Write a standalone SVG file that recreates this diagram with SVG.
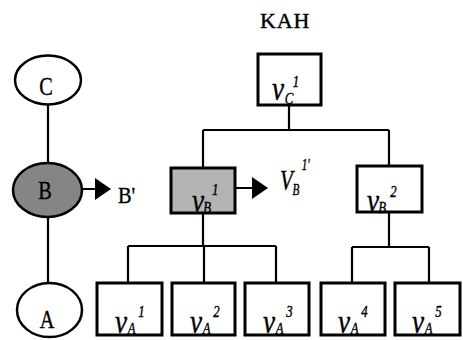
<svg xmlns="http://www.w3.org/2000/svg" width="463" height="340" viewBox="0 0 463 340">
<style>
.bg{fill:#fff}
.ell{fill:#fff;stroke:#000;stroke-width:2.5}
.ellg{fill:#858585;stroke:#000;stroke-width:2.5}
.box{fill:#fff;stroke:#000;stroke-width:3}
.boxg{fill:#b4b4b4;stroke:#000;stroke-width:3}
.ln{fill:none;stroke:#000;stroke-width:2.2}
.t{font-family:"Liberation Serif","Times New Roman",serif;fill:#000;stroke:#000;stroke-width:0.4}
.big{font-size:26px}
.v{font-family:"Liberation Serif","Times New Roman",serif;font-style:italic;fill:#000;stroke:#000;stroke-width:0.4}
.sb{font-size:16px}
.sp{font-size:16px}
</style>
<defs>
<marker id="ah" markerUnits="userSpaceOnUse" markerWidth="18" markerHeight="22" viewBox="0 0 16 22" refX="15" refY="11" orient="auto">
<path d="M0,0 L16,11 L0,22 z" fill="#000"/>
</marker>
</defs>
<rect class="bg" x="0" y="0" width="463" height="340"/>

<g id="connectors">
<line class="ln" x1="48" y1="104" x2="48" y2="163"/>
<line class="ln" x1="48" y1="217" x2="48" y2="283"/>
<line class="ln" x1="60" y1="189" x2="110" y2="189" marker-end="url(#ah)"/>
<line class="ln" x1="225" y1="188" x2="267" y2="188" marker-end="url(#ah)"/>
<path class="ln" d="M289,105 V130 M203,130 H389 M203,130 V168 M389,130 V166"/>
<path class="ln" d="M203,213 V246 M128,246 H276 M128,246 V283 M204,246 V283 M276,246 V283"/>
<path class="ln" d="M389,212 V247 M352,247 H429 M352,247 V283 M429,247 V283"/>
</g>

<g id="title"><text class="t" x="260" y="28" font-size="22" letter-spacing="0.8">KAH</text></g>

<g id="C">
<ellipse class="ell" cx="48" cy="80" rx="33" ry="24.5"/>
<text class="t big" transform="translate(46,95) scale(0.78,1)" text-anchor="middle">C</text>
</g>
<g id="B">
<ellipse class="ellg" cx="47.5" cy="190" rx="34.5" ry="27"/>
<text class="t big" transform="translate(45,199) scale(0.78,1)" text-anchor="middle">B</text>
</g>
<g id="A">
<ellipse class="ell" cx="49.5" cy="310" rx="32.5" ry="27"/>
<text class="t big" transform="translate(47,328) scale(0.78,1)" text-anchor="middle">A</text>
</g>
<g id="Bprime"><text class="t" x="118" y="203" font-size="24" transform="translate(118,0) scale(0.85,1) translate(-118,0)">B'</text></g>

<g id="vC1">
<rect class="box" x="258" y="54" width="63" height="51"/>
<text class="v" font-size="34" transform="translate(272,100) scale(0.8,1)">v<tspan class="sb" x="16" y="4">C</tspan><tspan class="sp" x="26" y="-13">1</tspan></text>
</g>
<g id="vB1">
<rect class="boxg" x="171" y="168" width="64" height="45"/>
<text class="v" font-size="34" transform="translate(192,212) scale(0.8,1)">v<tspan class="sb" x="14" y="1">B</tspan><tspan class="sp" x="25" y="-17">1</tspan></text>
</g>
<g id="VB1prime">
<text class="v" font-size="30" transform="translate(280,190) scale(0.7,1)">V<tspan class="sb" x="18" y="5">B</tspan><tspan class="sp" x="31" y="-20">1'</tspan></text>
</g>
<g id="vB2">
<rect class="box" x="357" y="166" width="65" height="46"/>
<text class="v" font-size="34" transform="translate(367,212) scale(0.8,1)">v<tspan class="sb" x="14" y="1">B</tspan><tspan class="sp" x="29" y="-15">2</tspan></text>
</g>
<g id="vA1">
<rect class="box" x="97" y="283" width="65" height="52"/>
<text class="v" font-size="34" transform="translate(115,333) scale(0.8,1)">v<tspan class="sb" x="16" y="1">A</tspan><tspan class="sp" x="29" y="-16">1</tspan></text>
</g>
<g id="vA2">
<rect class="box" x="172" y="283" width="63" height="52"/>
<text class="v" font-size="34" transform="translate(190,333) scale(0.8,1)">v<tspan class="sb" x="16" y="1">A</tspan><tspan class="sp" x="29" y="-16">2</tspan></text>
</g>
<g id="vA3">
<rect class="box" x="245" y="283" width="64" height="52"/>
<text class="v" font-size="34" transform="translate(263,333) scale(0.8,1)">v<tspan class="sb" x="16" y="1">A</tspan><tspan class="sp" x="29" y="-16">3</tspan></text>
</g>
<g id="vA4">
<rect class="box" x="321" y="283" width="64" height="52"/>
<text class="v" font-size="34" transform="translate(338,333) scale(0.8,1)">v<tspan class="sb" x="16" y="1">A</tspan><tspan class="sp" x="29" y="-16">4</tspan></text>
</g>
<g id="vA5">
<rect class="box" x="395" y="283" width="65" height="52"/>
<text class="v" font-size="34" transform="translate(412,333) scale(0.8,1)">v<tspan class="sb" x="16" y="1">A</tspan><tspan class="sp" x="29" y="-16">5</tspan></text>
</g>
</svg>
